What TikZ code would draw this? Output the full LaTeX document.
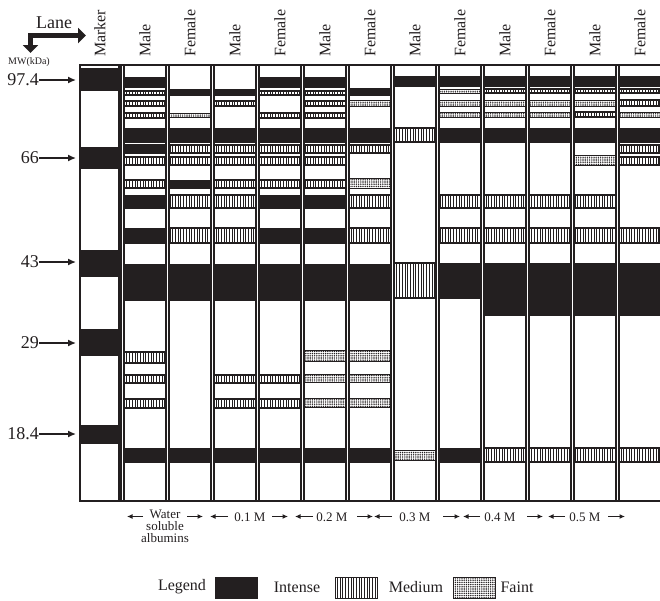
\documentclass[tikz,border=0pt]{standalone}
\usepackage{fontspec}
\setmainfont{Liberation Serif}
\usetikzlibrary{arrows.meta,patterns.meta}
\definecolor{ink}{HTML}{231F20}
\newcommand\gellane[3]{\foreach \ya/\yb/\st in {#3}{\path[\st] (#1,\ya) rectangle (#2,\yb);}}
\begin{document}
\begin{tikzpicture}[x=1pt,y=-1pt,
  bI/.style={fill=ink,draw=ink,line width=0.6pt},
  bM/.style={draw=ink,line width=1.1pt,pattern={Lines[angle=90,distance=2.7pt,line width=0.9pt]},pattern color=ink},
  bF/.style={draw=ink,line width=1pt,pattern={Dots[radius=0.8pt,distance=2.2pt]},pattern color=ink},
  laneline/.style={draw=ink,line width=1.1pt},
  hdr/.style={rotate=90,anchor=west,inner sep=0pt,text=ink,font=\fontsize{16}{16}\selectfont},
  mw/.style={anchor=east,inner sep=0pt,text=ink,font=\fontsize{18}{18}\selectfont},
  mwarrow/.style={-{Latex[length=8pt,width=7pt]},line width=1.4pt,draw=ink},
  grp/.style={inner sep=0pt,text=ink,font=\fontsize{13}{13}\selectfont},
  grparrow/.style={-{Latex[length=5.5pt,width=5pt]},line width=1.1pt,draw=ink},
  leg/.style={inner sep=0pt,text=ink,font=\fontsize{16}{16}\selectfont},
  legbox/.style={draw=ink,line width=1pt}]
\useasboundingbox (0,0) rectangle (660,600);

% ---- bands ----
\gellane{124}{166}{77/87/bI,91/95/bM,101/106/bM,113/118/bM,128/142/bI,144/153/bI,157/165/bM,180/188/bM,195/208/bI,228/243/bI,264/300/bI,352/363/bM,375/383/bM,399/408/bM,448/462/bI}
\gellane{169}{211}{89/95/bI,113/117/bF,128/142/bI,145/153/bM,157/165/bM,180/188/bI,195/208/bM,228/243/bM,264/300/bI,448/462/bI}
\gellane{214}{256}{89/95/bI,101/106/bM,128/142/bI,145/153/bM,157/165/bM,180/188/bM,195/208/bM,228/243/bM,264/300/bI,375/383/bM,399/408/bM,448/462/bI}
\gellane{259}{301}{77/87/bI,91/95/bM,113/118/bM,128/142/bI,145/153/bM,157/165/bM,180/188/bM,195/208/bI,228/243/bI,264/300/bI,375/383/bM,399/408/bM,448/462/bI}
\gellane{304}{346}{77/87/bI,91/95/bM,101/106/bM,113/118/bM,128/142/bI,145/153/bM,157/165/bM,180/188/bM,195/208/bI,228/243/bI,264/300/bI,350/361/bF,374/382/bF,398/407/bF,448/462/bI}
\gellane{349}{391}{88/95/bI,100/106/bF,128/142/bI,145/153/bM,178/188/bF,195/208/bM,228/243/bM,264/300/bI,350/361/bF,374/382/bF,398/407/bF,448/462/bI}
\gellane{394}{436}{76/86/bI,128/142/bM,263/298/bM,450/460/bF}
\gellane{439}{481}{76/86/bI,89/93/bF,100/106/bF,112/117/bF,128/142/bI,195/208/bM,228/243/bM,263/298/bI,448/462/bI}
\gellane{484}{526}{76/86/bI,89/93/bM,100/106/bF,112/117/bF,128/142/bI,195/208/bM,228/243/bM,263/315/bI,448/462/bM}
\gellane{529}{571}{76/86/bI,89/93/bM,100/106/bF,112/117/bF,128/142/bI,195/208/bM,228/243/bM,263/315/bI,448/462/bM}
\gellane{574}{616}{76/86/bI,89/93/bM,100/106/bF,112/117/bM,128/142/bI,155/165/bF,195/208/bM,228/243/bM,263/315/bI,448/462/bM}
\gellane{619}{660}{76/86/bI,89/93/bM,100/106/bM,112/117/bF,128/142/bI,145/153/bM,157/165/bM,228/243/bM,263/315/bI,448/462/bM}

% ---- marker lane ----
\foreach \ya/\yb in {68/90,147/168,250/276,329/355,425/443}{\path[bI] (80,\ya) rectangle (119,\yb);}
\draw[laneline] (80,65) rectangle (119,501);

% ---- lane frames ----
\foreach \xa in {121,166,211,256,301,346,391,436,481,526,571,616}{
  \draw[laneline] (\xa,65) -- (\xa,501);
  \draw[laneline] (\xa+3,65) -- (\xa+3,501);}
\draw[laneline] (80,65) -- (660,65);
\draw[laneline] (80,501) -- (660,501);

% ---- headers ----
\node[hdr] (hmk) at (100,57) {Marker};
\foreach \xc/\t [count=\i] in {145/Male,190/Female,235/Male,280/Female,325/Male,370/Female,415/Male,460/Female,505/Male,550/Female,595/Male,640/Female}
  {\node[hdr] (h\i) at (\xc,57) {\t};}

% ---- Lane / MW icon ----
\coordinate (lr) at (86,35.5);
\coordinate (lc) at (30.5,35.5);
\coordinate (ld) at (30.5,53);
\draw[line width=4.6pt,draw=ink,line join=miter,{Triangle[length=8pt,width=15pt]}-{Triangle[length=8pt,width=15pt]}] (lr) -- (lc) -- (ld);
\node[inner sep=0pt,text=ink,font=\fontsize{18}{18}\selectfont] (lane) at (54,23) {Lane};
\node[inner sep=0pt,text=ink,font=\fontsize{10}{10}\selectfont] (mwk) at (29,62) {MW(kDa)};

% ---- MW markers ----
\foreach \nm/\t/\yy in {a/97.4/80,b/66/158,c/43/262,d/29/343,e/18.4/434}{
  \node[mw] (m\nm) at (39,\yy) {\t};
  \coordinate (t\nm) at (76,\yy);
  \draw[mwarrow] (m\nm.east) -- (t\nm);}

% ---- group labels ----
\node[grp,align=center,anchor=north] (gw) at (165,510) {Water\\[-1pt]soluble\\[-1pt]albumins};
\foreach \t/\xc [count=\i] in {0.1 M/250,0.2 M/332,0.3 M/415,0.4 M/500,0.5 M/585}
  {\node[grp] (g\i) at (\xc,517) {\t};}
% span arrows: left arrow (start,end), right arrow (start,end)
\foreach \la/\lb/\ra/\rb [count=\i] in {143/127/187/203,228/210/272/288,313/295/357/373,392/374/443/460,480/463/527/543,565/548/608/625}{
  \coordinate (sl\i) at (\la,516.5); \coordinate (el\i) at (\lb,516.5);
  \coordinate (sr\i) at (\ra,516.5); \coordinate (er\i) at (\rb,516.5);
  \draw[grparrow] (sl\i) -- (el\i);
  \draw[grparrow] (sr\i) -- (er\i);}

% ---- legend ----
\node[leg] (lg) at (182,587) {Legend};
\path[legbox,fill=ink] (215,577) rectangle (257,598);
\node[leg] (li) at (297,587) {Intense};
\path[legbox,pattern={Lines[angle=90,distance=2.7pt,line width=0.9pt]},pattern color=ink] (335,577) rectangle (377,598);
\node[leg] (lm) at (416,587) {Medium};
\path[legbox,pattern={Dots[radius=0.8pt,distance=2.2pt]},pattern color=ink] (453,577) rectangle (495,598);
\node[leg] (lf) at (517,587) {Faint};
\end{tikzpicture}
\end{document}
